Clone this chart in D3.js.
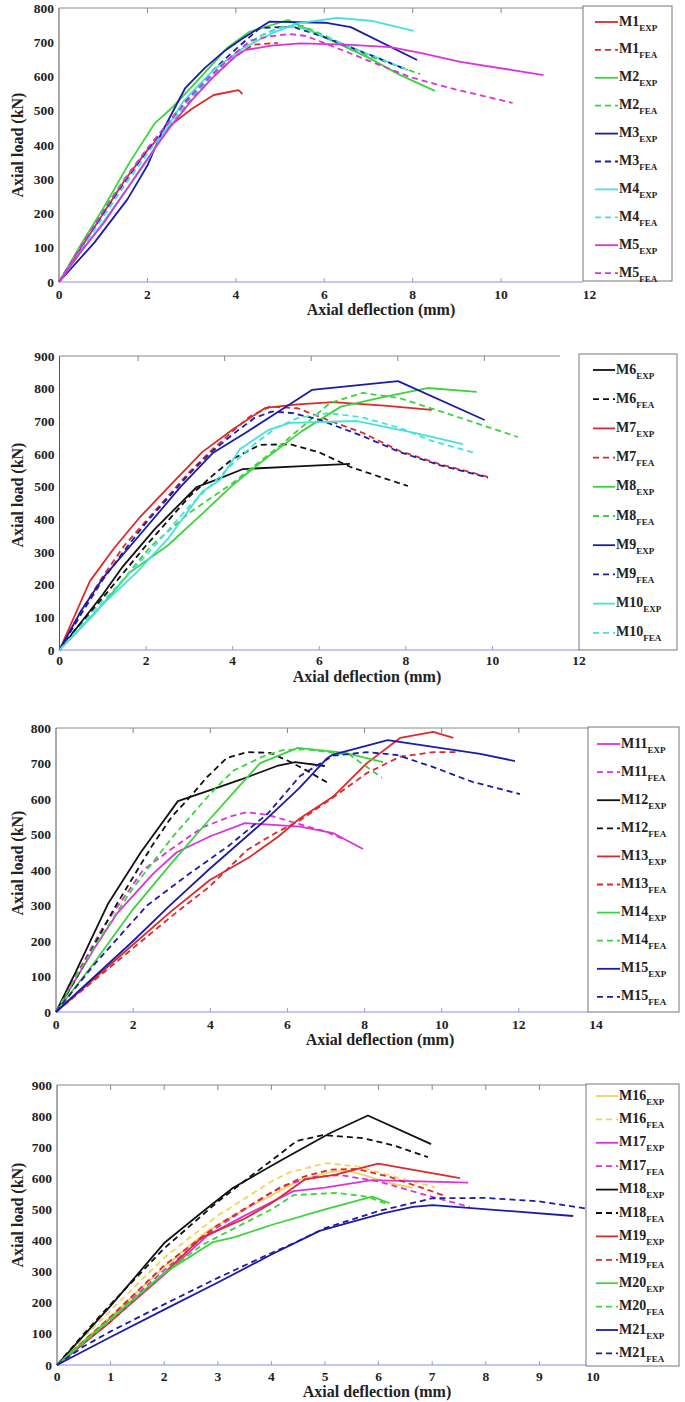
<!DOCTYPE html>
<html><head><meta charset="utf-8">
<script src="https://cdn.jsdelivr.net/npm/d3@7"></script>
<style>
body{margin:0;background:#fff}
text{font-family:"Liberation Serif","Times New Roman",serif;font-weight:bold;fill:#222}
</style>
</head><body>
<svg id="c" width="685" height="1402"></svg>
<script>
// ---------------- DATA (deflection mm, load kN) ----------------
const M1_EXP = [[0,0],[0.8,160],[1.5,300],[2,385],[2.5,455],[3,505],[3.5,546],[4.06,560],[4.15,549]];
const M1_FEA = [[0,0],[0.5,105],[1,205],[1.5,300],[2,385],[2.5,460],[3,535],[3.5,600],[4,660],[4.4,693],[4.95,698]];
const M2_EXP = [[0,0],[0.5,110],[1,215],[1.6,350],[2.17,464],[2.55,508],[3,570],[3.5,640],[3.8,683],[4.3,730],[5.18,765],[6,715],[7,655],[7.72,604],[8.5,558]];
const M2_FEA = [[0,0],[0.5,105],[1,210],[1.5,305],[2,390],[2.5,465],[3,540],[3.5,610],[4,670],[4.5,715],[5,745],[5.5,748],[6,720],[7,660],[8.17,607]];
const M3_EXP = [[0,0],[0.8,115],[1.55,242],[2,340],[2.3,430],[2.85,565],[3.3,625],[3.72,672],[4.2,715],[4.76,760],[6.02,757],[6.6,744],[8.1,648]];
const M3_FEA = [[0,0],[0.5,100],[1,200],[1.5,295],[2,385],[2.5,470],[3,550],[3.5,620],[4,680],[4.55,742],[5.3,745],[6,715],[7,665],[7.88,619]];
const M4_EXP = [[0,0],[1,175],[2,355],[2.8,526],[3.5,620],[4.17,683],[4.8,725],[5.38,755],[6.29,771],[7.1,762],[8.02,733]];
const M4_FEA = [[0,0],[0.5,95],[1,190],[1.5,285],[2,375],[2.5,460],[3,540],[3.5,605],[4,660],[4.5,715],[5,742],[5.4,745],[6,718],[7,665],[7.85,622]];
const M5_EXP = [[0,0],[0.5,90],[1,170],[1.5,265],[2,360],[2.5,450],[3,530],[3.5,600],[4,660],[4.2,677],[4.8,690],[5.46,697],[6.5,693],[7.5,686],[8.2,668],[9.08,643],[10.96,604]];
const M5_FEA = [[0,0],[0.5,105],[1,205],[1.5,300],[2,390],[2.5,470],[3,545],[3.5,610],[3.94,663],[4.33,705],[4.8,718],[5.23,724],[5.6,718],[6.29,683],[6.97,648],[7.95,598],[8.85,566],[10.26,523]];

const M6_EXP = [[0,0],[0.5,85],[1,170],[1.47,257],[2.2,370],[3.17,499],[3.6,520],[4.24,554],[5.5,562],[6.71,570]];
const M6_FEA = [[0,0],[0.35,60],[1,160],[2,320],[3,470],[3.5,530],[4,585],[4.63,628],[5.32,630],[6,605],[6.71,561],[7.4,530],[8.05,502]];
const M7_EXP = [[0,0],[0.7,210],[1.25,310],[1.86,407],[2.6,510],[3.29,605],[4,675],[4.75,741],[5.5,752],[6.32,759],[7.5,748],[8.6,735]];
const M7_FEA = [[0,0],[0.5,120],[1,225],[1.5,320],[2,395],[2.5,470],[3,545],[3.5,610],[4,670],[4.4,715],[4.86,745],[5.5,740],[6.32,698],[7,665],[7.86,609],[8.8,568],[9.9,530]];
const M8_EXP = [[0,0],[0.8,110],[1.63,238],[2.5,320],[3.32,420],[4,505],[4.8,590],[5.6,670],[6.5,745],[7.5,775],[8.5,802],[9.64,790]];
const M8_FEA = [[0,0],[1,140],[2.09,315],[3,420],[4,511],[5.16,633],[6.25,756],[7,787],[7.86,771],[9,722],[10.59,652]];
const M9_EXP = [[0,0],[0.5,120],[1,220],[2,375],[2.8,500],[3.54,603],[4.3,665],[5,725],[5.83,796],[7.82,823],[9.82,704]];
const M9_FEA = [[0,0],[0.5,110],[1,215],[1.5,305],[2,390],[2.5,465],[3,540],[3.5,605],[4,660],[4.5,710],[4.9,730],[5.4,725],[6,705],[7,655],[7.86,606],[8.8,565],[9.9,528]];
const M10_EXP = [[0,0],[1,140],[1.8,240],[2.5,340],[3.3,485],[3.7,520],[4.17,615],[4.82,673],[5.32,695],[6.87,701],[8.2,665],[9.32,630]];
const M10_FEA = [[0,0],[1,150],[2,290],[3,440],[3.5,505],[4,570],[4.5,630],[5,680],[5.5,710],[6.2,725],[7,712],[7.86,680],[8.6,640],[9.6,603]];

const M11_EXP = [[0,0],[0.5,90],[1,180],[1.6,280],[2.52,390],[3.13,450],[4,495],[4.9,532],[6.33,522],[7.18,504],[7.96,459]];
const M11_FEA = [[0,0],[0.5,100],[1.22,239],[2.26,400],[3,460],[3.8,520],[4.5,550],[4.95,563],[5.5,555],[6.38,527],[7,508],[7.5,485]];
const M12_EXP = [[0,0],[0.5,110],[1.35,305],[2.2,450],[3.16,594],[4,625],[4.8,655],[5.73,693],[6.2,704],[6.97,693]];
const M12_FEA = [[0,0],[0.5,90],[1,190],[1.5,290],[2,380],[2.5,470],[3,550],[3.47,605],[3.9,660],[4.42,715],[4.94,732],[5.55,730],[6.07,705],[6.5,680],[7.02,647]];
const M13_EXP = [[0,0],[1,95],[2,190],[3,285],[3.99,372],[5,435],[5.75,493],[6.33,546],[7.18,606],[8.06,701],[8.92,772],[9.78,789],[10.3,772]];
const M13_FEA = [[0,0],[1,90],[2,180],[3,270],[4,355],[4.95,456],[5.7,505],[6.33,540],[7.18,604],[8.06,673],[8.92,719],[9.78,732],[10.47,732]];
const M14_EXP = [[0,0],[1,140],[2,290],[3,420],[4,545],[4.7,630],[5.29,701],[6.27,744],[7.5,730],[8.48,704]];
const M14_FEA = [[0,0],[0.5,95],[1,185],[2,350],[3,490],[4,615],[4.6,680],[5.37,720],[5.89,738],[6.5,740],[7.62,724],[8.45,660]];
const M15_EXP = [[0,0],[1,100],[2,200],[2.96,301],[4,405],[5.37,535],[6.3,630],[7.03,715],[7.16,724],[8.6,766],[11,727],[11.9,707]];
const M15_FEA = [[0,0],[1,135],[2.36,300],[3.4,385],[4.5,470],[5.5,560],[6.33,665],[7.18,722],[8.06,732],[8.84,724],[9.78,690],[10.8,648],[12.03,614]];

const M16_EXP = [[0,0],[1,155],[2,315],[2.8,430],[3.5,500],[4,545],[4.53,595],[5.1,620],[5.4,625],[5.7,612],[6.2,585],[6.64,569]];
const M16_FEA = [[0,0],[0.5,90],[1,175],[2,345],[3,480],[4,590],[4.35,620],[5.03,649],[5.65,637],[6.3,605],[7.05,572]];
const M17_EXP = [[0,0],[1,140],[2,290],[2.8,415],[3.5,480],[4.41,559],[5,570],[5.87,594],[7.67,586]];
const M17_FEA = [[0,0],[1,150],[2,305],[2.8,420],[3.5,500],[4.2,575],[4.8,605],[5.3,610],[6,590],[6.8,550],[7.7,508]];
const M18_EXP = [[0,0],[0.5,95],[1,190],[2,392],[2.7,490],[3.28,569],[4.2,660],[5.09,745],[5.8,802],[6.98,710]];
const M18_FEA = [[0,0],[0.5,100],[1,195],[2,375],[3,525],[3.6,605],[4.1,670],[4.47,720],[4.96,739],[5.71,729],[6.3,705],[6.92,668]];
const M19_EXP = [[0,0],[1,140],[2,295],[2.7,410],[3.5,470],[4,520],[4.63,597],[5.2,612],[5.99,647],[7.52,601]];
const M19_FEA = [[0,0],[1,155],[2,320],[3,450],[4,555],[4.6,605],[5.1,628],[5.6,630],[6.2,605],[6.8,570],[7.2,546]];
const M20_EXP = [[0,0],[1,150],[2,295],[2.91,395],[3.3,410],[4,450],[5,500],[5.88,541],[6.21,520]];
const M20_FEA = [[0,0],[1,145],[2,295],[2.7,385],[3.2,430],[4,500],[4.41,546],[5.22,553],[5.78,541],[6.2,515]];
const M21_EXP = [[0,0],[1,90],[2,178],[3,265],[4,355],[4.9,431],[5.5,460],[6.1,488],[6.64,508],[7.01,514],[9.63,479]];
const M21_FEA = [[0,0],[0.5,60],[1,108],[2,195],[3,280],[4,360],[4.4,390],[5,440],[6,495],[7.01,536],[8,537],[9,526],[9.98,500]];

const P1_NAMES = ["M1","M2","M3","M4","M5"];
const P2_NAMES = ["M6","M7","M8","M9","M10"];
const P3_NAMES = ["M11","M12","M13","M14","M15"];
const P4_NAMES = ["M16","M17","M18","M19","M20","M21"];
const P1_DATA = [M1_EXP,M1_FEA,M2_EXP,M2_FEA,M3_EXP,M3_FEA,M4_EXP,M4_FEA,M5_EXP,M5_FEA];
const P2_DATA = [M6_EXP,M6_FEA,M7_EXP,M7_FEA,M8_EXP,M8_FEA,M9_EXP,M9_FEA,M10_EXP,M10_FEA];
const P3_DATA = [M11_EXP,M11_FEA,M12_EXP,M12_FEA,M13_EXP,M13_FEA,M14_EXP,M14_FEA,M15_EXP,M15_FEA];
const P4_DATA = [M16_EXP,M16_FEA,M17_EXP,M17_FEA,M18_EXP,M18_FEA,M19_EXP,M19_FEA,M20_EXP,M20_FEA,M21_EXP,M21_FEA];
const SUBS = ["EXP","FEA"];
const X_TITLE = "Axial deflection (mm)";
const Y_TITLE = "Axial load (kN)";

// ---------------- STYLE / LAYOUT ----------------
const C = {red:"#dc2a2a", green:"#3cd43c", navy:"#1c1ca8", cyan:"#45e2dc", mag:"#dc32dc", black:"#111", yellow:"#f2d35c"};
const P1_COL = [C.red,C.green,C.navy,C.cyan,C.mag];
const P2_COL = [C.black,C.red,C.green,C.navy,C.cyan];
const P3_COL = [C.mag,C.black,C.red,C.green,C.navy];
const P4_COL = [C.yellow,C.mag,C.black,C.red,C.green,C.navy];

const panels = [
  {names:P1_NAMES, data:P1_DATA, cols:P1_COL, xMax:12, xStep:2, yMax:800, xr:[59,589.5], yr:[282,8], topEnd:583, topShift:0,
   leg:{x:583,y:6,w:89,h:275,first:22,step:27.9,l1:595,l2:618,tx:619}, xtY:299, xTitle:[381,315], yTitle:[18,145]},
  {names:P2_NAMES, data:P2_DATA, cols:P2_COL, xMax:12, xStep:2, yMax:900, xr:[59.5,579], yr:[650,356], topEnd:560, topShift:-8,
   leg:{x:579,y:354,w:98,h:296,first:370,step:29.2,l1:593,l2:615,tx:616}, xtY:665, xTitle:[367,682], yTitle:[18,495]},
  {names:P3_NAMES, data:P3_DATA, cols:P3_COL, xMax:14, xStep:2, yMax:800, xr:[56,596], yr:[1012,728], topEnd:588, topShift:0,
   leg:{x:588,y:727,w:91,h:285,first:744,step:28.1,l1:597,l2:620,tx:621}, xtY:1029, xTitle:[380,1045], yTitle:[18,863]},
  {names:P4_NAMES, data:P4_DATA, cols:P4_COL, xMax:10, xStep:1, yMax:900, xr:[57,593], yr:[1365,1085], topEnd:586, topShift:0,
   leg:{x:586,y:1084,w:93,h:282,first:1096,step:23.4,l1:596,l2:618,tx:619}, xtY:1381, xTitle:[377,1397], yTitle:[18,1215]}
];

const svg = d3.select("#c");

panels.forEach(p => {
  const x = d3.scaleLinear().domain([0,p.xMax]).range(p.xr);
  const y = d3.scaleLinear().domain([0,p.yMax]).range(p.yr);
  const g = svg.append("g");
  const xTicks = d3.range(0,p.xMax+0.001,p.xStep);
  const yTicks = d3.range(0,p.yMax+1,100);

  // top border with inner ticks
  g.append("line").attr("x1",p.xr[0]).attr("x2",p.topEnd).attr("y1",p.yr[1]).attr("y2",p.yr[1]).attr("stroke","#888").attr("stroke-width",1);
  xTicks.forEach(t => {
    const xx = x(t)+p.topShift;
    if (xx > p.xr[0]+2 && xx < p.topEnd-2)
      g.append("line").attr("x1",xx).attr("x2",xx).attr("y1",p.yr[1]).attr("y2",p.yr[1]+5).attr("stroke","#888");
  });
  // bottom axis (bluish) with inner ticks
  g.append("line").attr("x1",p.xr[0]).attr("x2",p.leg.x).attr("y1",p.yr[0]).attr("y2",p.yr[0]).attr("stroke","#8c8cf0").attr("stroke-width",1.2);
  xTicks.forEach(t => {
    const xx = x(t);
    if (xx > p.xr[0]+2 && xx < p.leg.x-2)
      g.append("line").attr("x1",xx).attr("x2",xx).attr("y1",p.yr[0]).attr("y2",p.yr[0]-4).attr("stroke","#9a9ad8");
  });
  // left axis
  g.append("line").attr("x1",p.xr[0]).attr("x2",p.xr[0]).attr("y1",p.yr[0]).attr("y2",p.yr[1]).attr("stroke","#555").attr("stroke-width",1);

  // tick labels
  g.selectAll(".yt").data(yTicks).enter().append("text")
    .attr("x",p.xr[0]-5).attr("y",d=>y(d)+4.5).attr("text-anchor","end").attr("font-size",13.5).text(d=>d);
  g.selectAll(".xt").data(xTicks).enter().append("text")
    .attr("x",d=>x(d)).attr("y",p.xtY).attr("text-anchor","middle").attr("font-size",13.5).text(d=>d);

  // titles
  g.append("text").attr("x",p.xTitle[0]).attr("y",p.xTitle[1]).attr("text-anchor","middle").attr("font-size",16).text(X_TITLE);
  g.append("text").attr("transform",`translate(${p.yTitle[0]+5},${p.yTitle[1]}) rotate(-90)`).attr("text-anchor","middle").attr("font-size",16).text(Y_TITLE);

  // lines
  const line = d3.line().x(d=>x(d[0])).y(d=>y(d[1]));
  p.data.forEach((ser,i) => {
    const col = p.cols[Math.floor(i/2)];
    g.append("path").datum(ser).attr("d",line).attr("fill","none")
      .attr("stroke",col).attr("stroke-width",1.8).attr("stroke-linejoin","round")
      .attr("stroke-dasharray", i%2 ? "6,4" : null);
  });

  // legend
  const L = p.leg;
  g.append("rect").attr("x",L.x).attr("y",L.y).attr("width",L.w).attr("height",L.h).attr("fill","#fff").attr("stroke","#777").attr("stroke-width",1);
  p.data.forEach((ser,i) => {
    const col = p.cols[Math.floor(i/2)];
    const yy = L.first + i*L.step;
    g.append("line").attr("x1",L.l1).attr("x2",L.l2).attr("y1",yy).attr("y2",yy)
      .attr("stroke",col).attr("stroke-width",1.8).attr("stroke-dasharray", i%2 ? "6,4" : null);
    const t = g.append("text").attr("x",L.tx).attr("y",yy+3.5).attr("font-size",14);
    t.append("tspan").text(p.names[Math.floor(i/2)]);
    t.append("tspan").attr("font-size",9).attr("dy",5).text(SUBS[i%2]);
  });
});
</script>
</body></html>
